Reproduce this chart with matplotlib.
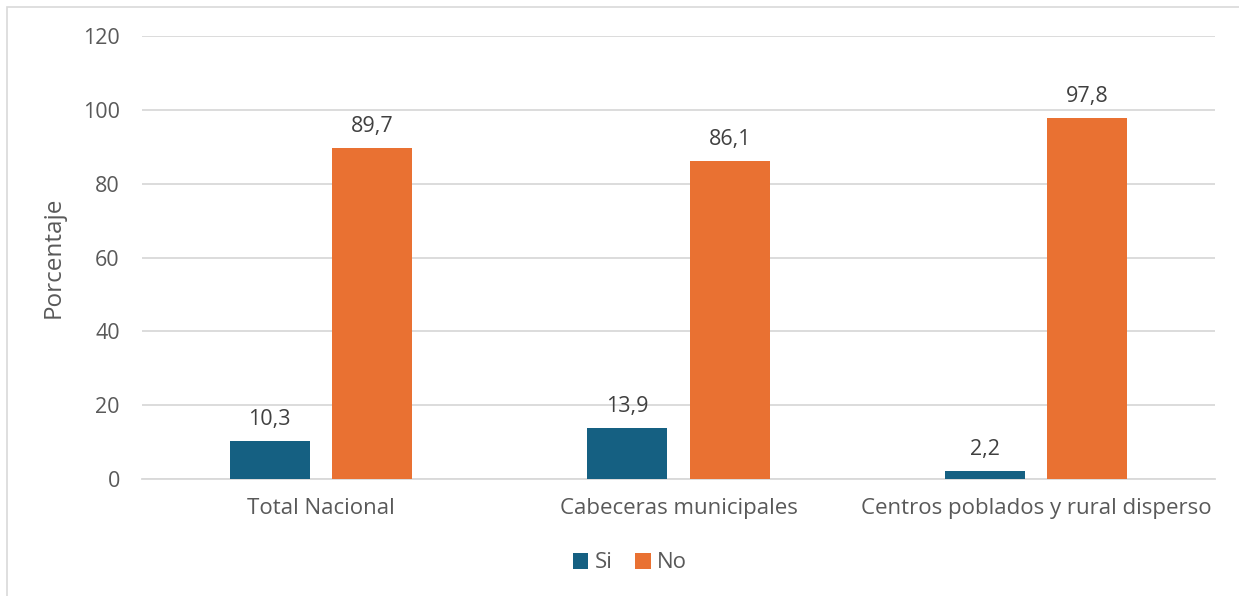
import numpy as np
import matplotlib.pyplot as plt
from matplotlib.patches import Rectangle

categorias = ["Total Nacional", "Cabeceras municipales", "Centros poblados y rural disperso"]
si = [10.3, 13.9, 2.2]
no = [89.7, 86.1, 97.8]
yticks = [0, 20, 40, 60, 80, 100, 120]

azul = "#156082"
naranja = "#E97132"
gris_texto = "#595959"

plt.rcParams["font.family"] = ["Open Sans", "DejaVu Sans"]

fig = plt.figure(figsize=(12.39, 5.96), dpi=100)
ax = fig.add_axes([142 / 1239, 1 - 479 / 596, (1215 - 142) / 1239, (479 - 36) / 596])

# borde del área del gráfico
fig.patches.append(Rectangle((7 / 1239, -0.1), 1.2, 1 - 7 / 596 + 0.1, transform=fig.transFigure,
                             fill=False, edgecolor="#d9d9d9", linewidth=1.2))

x = np.arange(len(categorias))
ancho = 0.224
desp = 0.143
b1 = ax.bar(x - desp, si, ancho, color=azul, label="Si", zorder=3)
b2 = ax.bar(x + desp, no, ancho, color=naranja, label="No", zorder=3)

for barras in (b1, b2):
    for r in barras:
        v = r.get_height()
        ax.annotate(f"{v:.1f}".replace(".", ","), (r.get_x() + r.get_width() / 2, v),
                    xytext=(0, 8), textcoords="offset points", ha="center", va="bottom",
                    fontsize=15.5, color="#404040")

ax.set_xlim(-0.5, len(categorias) - 0.5)
ax.set_ylim(0, 120)
ax.set_yticks(yticks)
ax.set_xticks(x)
ax.set_xticklabels(categorias)
ax.grid(axis="y", color="#d9d9d9", linewidth=1.3, zorder=0)
for s in ("top", "right", "left"):
    ax.spines[s].set_visible(False)
ax.spines["bottom"].set_color("#d9d9d9")
ax.spines["bottom"].set_linewidth(1.3)
ax.tick_params(axis="y", length=0, labelsize=15.5, labelcolor=gris_texto, pad=16)
ax.tick_params(axis="x", length=0, labelsize=16, labelcolor=gris_texto, pad=14)
ax.set_ylabel("Porcentaje", fontsize=17.5, color=gris_texto, labelpad=12)

fig.legend(handles=[b1, b2], labels=["Si", "No"], loc="center", bbox_to_anchor=(630 / 1239, 1 - 563 / 596),
           ncol=2, frameon=False, fontsize=16, labelcolor=gris_texto, handlelength=0.7, handleheight=0.7,
           handletextpad=0.3, columnspacing=1.0)

fig.savefig("out.png", dpi=100)
